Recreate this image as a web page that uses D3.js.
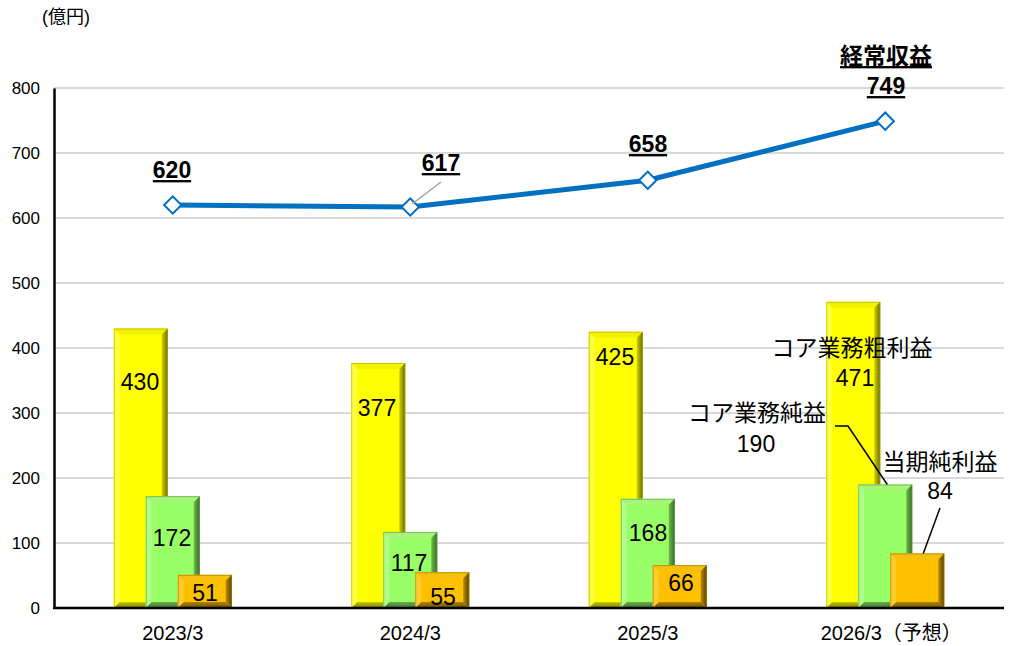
<!DOCTYPE html>
<html><head><meta charset="utf-8">
<script src="https://cdn.jsdelivr.net/npm/d3@7"></script>
<style>
body{margin:0;background:#fff;}
text{font-family:"Liberation Sans","Noto Sans CJK JP",Arial,sans-serif;}
</style></head>
<body><svg id="c" width="1012" height="646"></svg>
<script>
const categories = ["2023/3","2024/3","2025/3","2026/3（予想）"];
const grossProfit = [430,377,425,471];   // コア業務粗利益
const coreNet = [172,117,168,190];       // コア業務純益
const netIncome = [51,55,66,84];         // 当期純利益
const revenue = [620,617,658,749];       // 経常収益
const yTicks = [0,100,200,300,400,500,600,700,800];

const svg = d3.select("#c");
const defs = svg.append("defs");
const L = 54, R = 1004, T = 88, B = 608;
const x = d3.scaleBand().domain(categories).range([L,R]);
const y = d3.scaleLinear().domain([0,800]).range([B,T]);
const cxOf = i => x(categories[i]) + x.bandwidth()/2;

// grid
svg.append("g").selectAll("line").data(yTicks.filter(d=>d>0)).join("line")
  .attr("x1",L).attr("x2",R).attr("y1",d=>y(d)).attr("y2",d=>y(d))
  .attr("stroke","#d9d9d9").attr("stroke-width",2);

// y axis
const ya = svg.append("g").attr("transform",`translate(${L},0)`)
  .call(d3.axisLeft(y).tickValues(yTicks).tickSize(0).tickPadding(14));
ya.select(".domain").attr("stroke","#000").attr("stroke-width",2.5);
ya.selectAll("text").attr("font-size",17).attr("fill","#000");

svg.append("text").attr("x",66).attr("y",17).attr("dy","0.35em").attr("font-size",18).attr("text-anchor","middle").text("(億円)");

// bars
const bw = 54, off = 32, bev = 6;
const series = [
  {id:"y", vals:grossProfit, dx:-off, face:"#ffff00", top:"#f2f200", left:"#ffff40", rIn:"#d0d000", rOut:"#6a6a00", bIn:"#c8c800", bOut:"#7a7a00", edge:"#a8a800"},
  {id:"g", vals:coreNet, dx:0, face:"#99ff66", top:"#a6f57a", left:"#b0ff8c", rIn:"#6cbc48", rOut:"#3a6a26", bIn:"#6aae4a", bOut:"#3f7030", edge:"#5c9a40"},
  {id:"o", vals:netIncome, dx:off, face:"#ffc000", top:"#f5c010", left:"#ffcc30", rIn:"#b88a00", rOut:"#5a4200", bIn:"#b08400", bOut:"#6a4e00", edge:"#a07800"}
];
series.forEach(s=>{
  const gr = defs.append("linearGradient").attr("id","r"+s.id).attr("x1",0).attr("x2",1).attr("y1",0).attr("y2",0);
  gr.append("stop").attr("offset",0).attr("stop-color",s.rIn);
  gr.append("stop").attr("offset",1).attr("stop-color",s.rOut);
  const gb = defs.append("linearGradient").attr("id","b"+s.id).attr("x1",0).attr("x2",0).attr("y1",0).attr("y2",1);
  gb.append("stop").attr("offset",0).attr("stop-color",s.bIn);
  gb.append("stop").attr("offset",1).attr("stop-color",s.bOut);
});
series.forEach(s=>{
  const g = svg.append("g");
  s.vals.forEach((v,i)=>{
    const cx = cxOf(i) + s.dx;
    const x0 = cx - bw/2, x1 = cx + bw/2, y0 = y(v), y1 = y(0);
    const b = Math.min(bev,(y1-y0)/2);
    g.append("rect").attr("x",x0).attr("y",y0).attr("width",bw).attr("height",y1-y0).attr("fill",s.face);
    const poly = (pts,fill)=>g.append("polygon").attr("points",pts.map(p=>p.join(",")).join(" ")).attr("fill",fill);
    poly([[x0,y0],[x1,y0],[x1-b,y0+b],[x0+b,y0+b]], s.top);
    poly([[x0,y0],[x0+b,y0+b],[x0+b,y1-b],[x0,y1]], s.left);
    poly([[x1,y0],[x1,y1],[x1-b,y1-b],[x1-b,y0+b]], `url(#r${s.id})`);
    poly([[x0,y1],[x0+b,y1-b],[x1-b,y1-b],[x1,y1]], `url(#b${s.id})`);
    g.append("rect").attr("x",x0+0.5).attr("y",y0+0.5).attr("width",bw-1).attr("height",y1-y0-1)
      .attr("fill","none").attr("stroke",s.edge).attr("stroke-width",1).attr("stroke-opacity",0.6);
  });
});

// x axis
svg.append("line").attr("x1",L-1).attr("x2",R).attr("y1",B).attr("y2",B).attr("stroke","#000").attr("stroke-width",2.5);
svg.append("g").selectAll("text").data(categories).join("text")
  .attr("x",(d,i)=>cxOf(i) + (i===3?6:0)).attr("y",633).attr("dy","0.35em").attr("text-anchor","middle")
  .attr("font-size",20).text(d=>d);

const lab = (tx,ty,t,opt={})=>svg.append("text").attr("x",tx).attr("y",ty).attr("dy","0.35em").attr("text-anchor","middle")
  .attr("font-size",opt.fs||23).attr("font-weight",opt.bold?"bold":"normal")
  .attr("text-decoration",opt.u?"underline":null).text(t);

// gross profit labels (centers)
const gpPos = [[140,382],[377,408],[615,357],[855,378]];
grossProfit.forEach((v,i)=>lab(gpPos[i][0],gpPos[i][1],v));
const cnPos = [[172,538],[409,563],[648,533],[756,444]];
coreNet.forEach((v,i)=>lab(cnPos[i][0],cnPos[i][1],v));
const niPos = [[205,593],[443,597],[681,583],[940,491]];
netIncome.forEach((v,i)=>lab(niPos[i][0],niPos[i][1],v));

lab(852,348,"コア業務粗利益");
lab(757,413,"コア業務純益");
lab(940,462,"当期純利益");
svg.append("polyline").attr("points",`835,426 848,426 ${cxOf(3)+2},${y(coreNet[3])}`)
  .attr("fill","none").attr("stroke","#000").attr("stroke-width",1.5);
svg.append("line").attr("x1",940).attr("y1",508).attr("x2",cxOf(3)+off+6).attr("y2",y(netIncome[3]))
  .attr("stroke","#000").attr("stroke-width",1.5);

// line
const line = d3.line().x((d,i)=>cxOf(i)).y(d=>y(d));
svg.append("path").datum(revenue).attr("d",line).attr("fill","none").attr("stroke","#0070c0").attr("stroke-width",5);
svg.append("g").selectAll("path").data(revenue).join("path")
  .attr("d",d3.symbol(d3.symbolSquare,150))
  .attr("transform",(d,i)=>`translate(${cxOf(i)},${y(d)}) rotate(45)`)
  .attr("fill","#fff").attr("stroke","#0070c0").attr("stroke-width",2);

// leader for 617
svg.append("line").attr("x1",441).attr("y1",182).attr("x2",cxOf(1)+2).attr("y2",y(revenue[1])-3)
  .attr("stroke","#a6a6a6").attr("stroke-width",1.5);

// line labels
const rl = [[172,170],[441,163],[648,144],[886,86]];
revenue.forEach((v,i)=>lab(rl[i][0],rl[i][1],v,{bold:true,u:true}));
lab(886,56,"経常収益",{bold:true,u:true});
</script></body></html>
